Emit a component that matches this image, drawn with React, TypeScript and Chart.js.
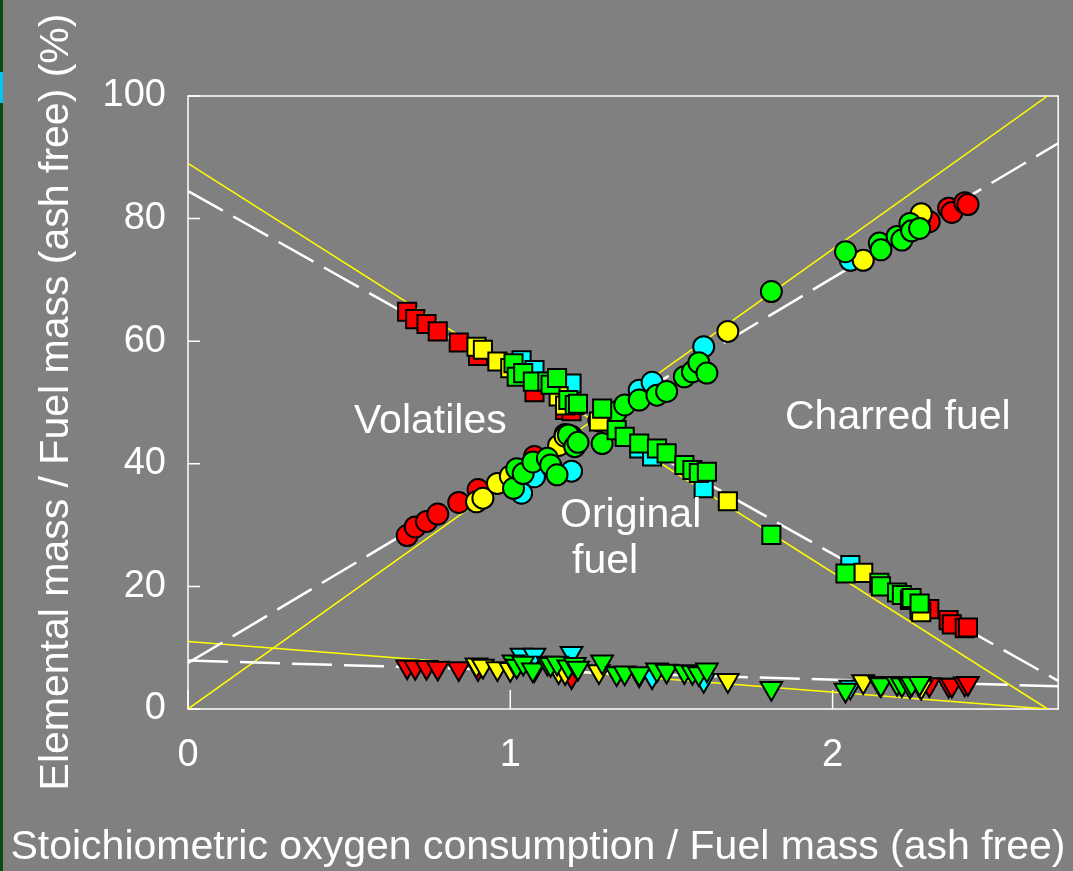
import { useEffect, useRef } from "react";
import { Chart, registerables } from "chart.js";

Chart.register(...registerables);

const FONT = '"Liberation Sans", Arial, Helvetica, sans-serif';

// Axis ticks
const xTickValues = [0, 1, 2];
const yTickValues = [0, 20, 40, 60, 80, 100];

// Each sample: stoichiometric O2 consumption (x) with carbon (circles),
// oxygen (squares) and hydrogen (triangles) mass fractions, in %.
const redX = [0.68, 0.705, 0.74, 0.775, 0.84, 0.9, 1.075, 1.17, 1.19, 2.3, 2.36, 2.37, 2.41, 2.42];
const redC = [28.3, 29.7, 30.6, 31.8, 33.7, 35.8, 41.2, 44.8, 44.5, 79.5, 81.7, 81.0, 82.6, 82.3];
const redO = [64.8, 63.6, 62.8, 61.6, 59.8, 57.6, 51.7, 48.8, 48.6, 16.3, 14.5, 13.8, 13.2, 13.3];
const redH = [6.9, 6.8, 6.8, 6.7, 6.6, 6.6, 6.5, 6.0, 5.3, 4.0, 3.9, 3.9, 4.1, 4.2];

const yellowX = [0.895, 0.915, 0.96, 1.0, 1.15, 1.17, 1.275, 1.675, 2.095, 2.27, 2.275];
const yellowC = [33.8, 34.4, 36.8, 38.0, 43.0, 44.5, 47.0, 61.6, 73.2, 80.0, 80.8];
const yellowO = [59.1, 58.6, 56.7, 55.6, 51.0, 49.5, 46.9, 33.9, 22.2, 16.2, 15.8];
const yellowH = [7.2, 7.0, 6.6, 6.5, 6.1, 6.0, 6.1, 4.7, 4.5, 3.9, 3.6];

const cyanX = [1.035, 1.075, 1.19, 1.4, 1.44, 1.6, 2.055];
const cyanC = [35.2, 37.9, 38.8, 52.0, 53.3, 59.1, 73.2];
const cyanO = [56.9, 55.3, 53.1, 42.5, 41.2, 36.0, 23.5];
const cyanH = [8.8, 8.8, 9.1, 5.6, 5.3, 4.7, 3.6];

const greenX = [
  1.01, 1.02, 1.04, 1.07, 1.115, 1.125, 1.145, 1.18, 1.2, 1.21,
  1.285, 1.33, 1.355, 1.4, 1.455, 1.485, 1.54, 1.565, 1.585, 1.61, 1.81,
  2.04, 2.145, 2.15, 2.2, 2.215, 2.24, 2.245, 2.27,
];
const greenC = [
  36.0, 39.2, 38.4, 40.3, 40.9, 39.8, 38.2, 44.7, 42.8, 43.5,
  43.3, 48.5, 49.6, 50.4, 51.2, 51.8, 54.2, 55.0, 56.5, 54.8, 68.1,
  74.6, 76.0, 74.9, 77.1, 76.5, 79.2, 78.0, 78.4,
];
const greenO = [
  56.4, 54.2, 54.8, 53.4, 53.4, 52.9, 54.0, 50.4, 49.6, 49.8,
  49.0, 45.5, 44.4, 43.3, 42.5, 41.7, 39.8, 39.0, 38.5, 38.7, 28.4,
  22.1, 20.6, 20.0, 19.0, 18.6, 17.8, 18.1, 17.2,
];
const greenH = [
  7.7, 7.0, 7.5, 6.4, 7.5, 7.3, 7.5, 6.9, 7.3, 6.7,
  7.7, 5.8, 5.9, 5.8, 6.4, 6.2, 6.1, 6.0, 5.8, 6.4, 3.4,
  3.1, 4.2, 4.0, 4.2, 4.0, 3.8, 4.1, 4.2,
];

// Ideal-mixing lines (solid yellow) and regression lines (dashed white)
const modelX = [0, 2.667];
const modelC = [0, 100];
const modelO = [89, 0];
const modelH = [11, 0];

const fitX = [0, 2.7];
const fitC = [7.5, 92.3];
const fitO = [84.5, 4.6];
const fitH = [7.9, 3.7];

const RED = "#ff0000";
const YELLOW = "#ffff00";
const CYAN = "#00ffff";
const GREEN = "#00ff00";

const pts = (xs: number[], ys: number[]) => xs.map((x, i) => ({ x, y: ys[i] }));

function markers(xs: number[], ys: number[], color: string, shape: string) {
  const isTri = shape === "triangle";
  const isRect = shape === "rect";
  return {
    type: "scatter" as const,
    data: pts(xs, ys),
    pointStyle: shape,
    pointRadius: isRect ? 12.8 : isTri ? 12.5 : 10.5,
    pointRotation: isTri ? 180 : 0,
    backgroundColor: color,
    borderColor: "#000000",
    pointBorderWidth: 2,
    borderWidth: 2,
    order: 1,
  };
}

function fitLine(xs: number[], ys: number[], color: string, width: number, dash: number[]) {
  return {
    type: "line" as const,
    data: pts(xs, ys),
    showLine: true,
    borderColor: color,
    borderWidth: width,
    borderDash: dash,
    pointRadius: 0,
    fill: false,
    order: 2,
  };
}

const frameAndText = {
  id: "frameAndText",
  beforeDatasetsDraw(chart: any) {
    const { ctx, chartArea: a, scales } = chart;
    ctx.save();
    ctx.strokeStyle = "#ffffff";
    ctx.lineWidth = 1.5;
    ctx.strokeRect(a.left, a.top, a.right - a.left, a.bottom - a.top);
    ctx.beginPath();
    for (const v of xTickValues) {
      const px = scales.x.getPixelForValue(v);
      ctx.moveTo(px, a.bottom);
      ctx.lineTo(px, a.bottom - 19);
    }
    for (const v of yTickValues) {
      const py = scales.y.getPixelForValue(v);
      ctx.moveTo(a.left, py);
      ctx.lineTo(a.left + 12, py);
    }
    ctx.stroke();
    ctx.restore();
  },
  afterDraw(chart: any) {
    const { ctx } = chart;
    ctx.save();
    ctx.fillStyle = "#ffffff";
    ctx.font = `41px ${FONT}`;
    ctx.textBaseline = "alphabetic";

    ctx.textAlign = "center";
    ctx.fillText("Stoichiometric oxygen consumption / Fuel mass (ash free)", 538, 859);

    ctx.save();
    ctx.translate(68, 402);
    ctx.rotate(-Math.PI / 2);
    ctx.fillText("Elemental mass / Fuel mass (ash free) (%)", 0, 0);
    ctx.restore();

    ctx.textAlign = "left";
    ctx.fillText("Volatiles", 354, 433);
    ctx.fillText("Charred fuel", 785, 429);
    ctx.fillText("Original", 560, 527);
    ctx.fillText("fuel", 572, 573);
    ctx.restore();
  },
};

export default function App() {
  const canvasRef = useRef<HTMLCanvasElement | null>(null);

  useEffect(() => {
    const canvas = canvasRef.current;
    if (!canvas) return;

    const datasets: any[] = [
      markers(greenX, greenH, GREEN, "triangle"),
      markers(yellowX, yellowH, YELLOW, "triangle"),
      markers(cyanX, cyanH, CYAN, "triangle"),
      markers(redX, redH, RED, "triangle"),
      markers(greenX, greenO, GREEN, "rect"),
      markers(yellowX, yellowO, YELLOW, "rect"),
      markers(cyanX, cyanO, CYAN, "rect"),
      markers(redX, redO, RED, "rect"),
      markers(greenX, greenC, GREEN, "circle"),
      markers(yellowX, yellowC, YELLOW, "circle"),
      markers(cyanX, cyanC, CYAN, "circle"),
      markers(redX, redC, RED, "circle"),
      fitLine(fitX, fitC, "#ffffff", 2.5, [40, 12]),
      fitLine(fitX, fitO, "#ffffff", 2.5, [40, 12]),
      fitLine(fitX, fitH, "#ffffff", 2.5, [40, 12]),
      fitLine(modelX, modelC, YELLOW, 1.5, []),
      fitLine(modelX, modelO, YELLOW, 1.5, []),
      fitLine(modelX, modelH, YELLOW, 1.5, []),
    ];

    const tickFont = { family: FONT, size: 38 };

    const chart = new Chart(canvas, {
      type: "scatter",
      data: { datasets },
      options: {
        responsive: false,
        animation: false,
        devicePixelRatio: 1,
        layout: { padding: { top: 96, right: 8, left: 0, bottom: 0 } },
        plugins: { legend: { display: false }, tooltip: { enabled: false } },
        scales: {
          x: {
            type: "linear",
            min: 0,
            max: 2.7,
            afterBuildTicks: (s: any) => {
              s.ticks = xTickValues.map((value) => ({ value }));
            },
            afterFit: (s: any) => {
              s.height = 162;
            },
            grid: { display: false, drawTicks: false },
            border: { display: false },
            ticks: { color: "#ffffff", font: tickFont, padding: 24, maxRotation: 0, autoSkip: false },
          },
          y: {
            type: "linear",
            min: 0,
            max: 100,
            afterBuildTicks: (s: any) => {
              s.ticks = yTickValues.map((value) => ({ value }));
            },
            afterFit: (s: any) => {
              s.width = 188;
            },
            grid: { display: false, drawTicks: false },
            border: { display: false },
            ticks: { color: "#ffffff", font: tickFont, padding: 22, autoSkip: false },
          },
        },
      } as any,
      plugins: [frameAndText],
    });

    return () => chart.destroy();
  }, []);

  return (
    <div style={{ position: "fixed", left: 0, top: 0, width: 1073, height: 871, background: "#808080", overflow: "hidden" }}>
      <div style={{ position: "absolute", left: 0, top: 0, width: 3, height: 871, background: "#0a4d0a" }} />
      <div style={{ position: "absolute", left: 0, top: 72, width: 3, height: 31, background: "#00c4f4" }} />
      <canvas ref={canvasRef} width={1073} height={871} style={{ position: "absolute", left: 0, top: 0, display: "block" }} />
    </div>
  );
}
